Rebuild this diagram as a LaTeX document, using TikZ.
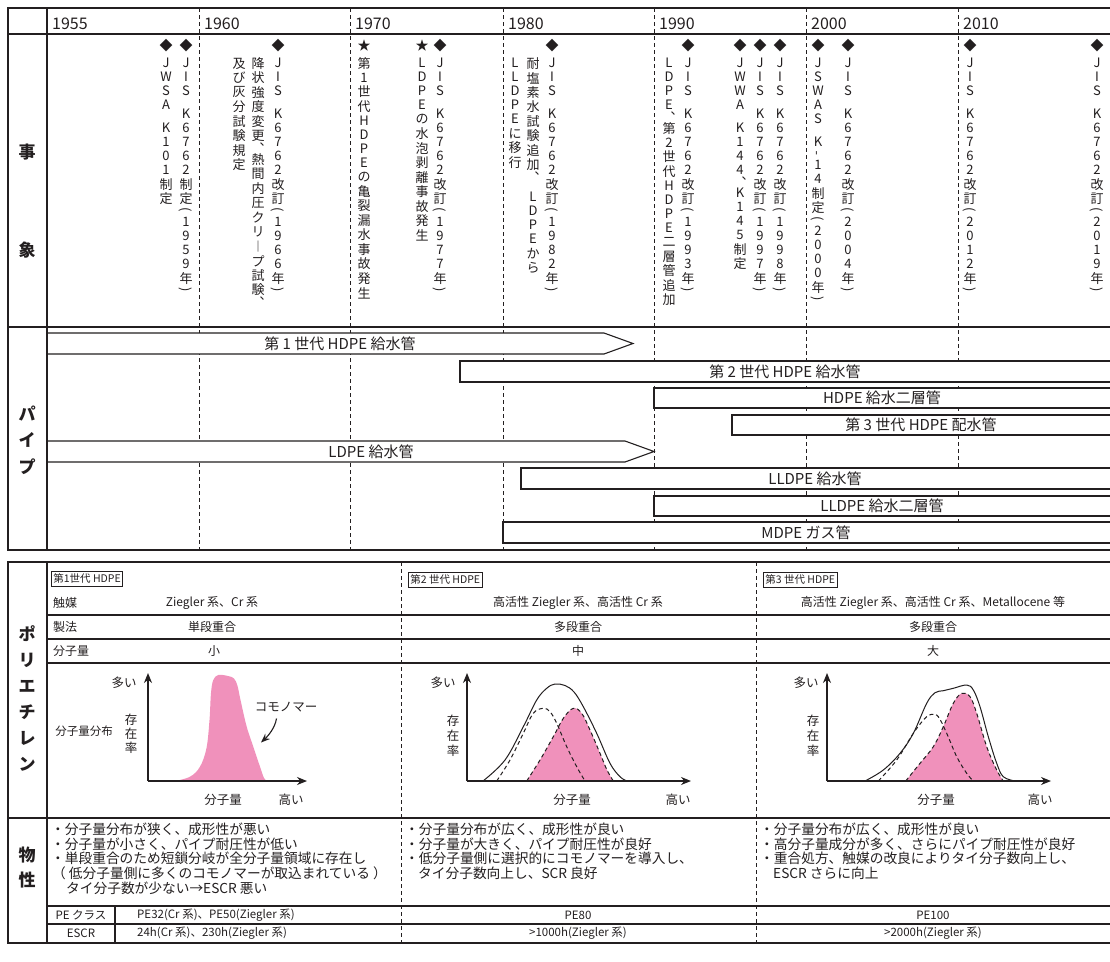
\documentclass[tikz,border=0pt]{standalone}
\usepackage{fontspec}
\usepackage{graphicx}
\setmainfont{Noto Sans CJK JP}
\usetikzlibrary{arrows.meta}
\definecolor{ink}{RGB}{35,31,32}
\definecolor{pinkfill}{RGB}{240,145,187}
\makeatletter
\def\vt@end{\vt@end}
\newcommand\vt@box[2]{\hbox to 14pt{\hss\vbox to #1{\vss\hbox{#2}\vss}\hss}}
\def\vt@loop#1{\ifx\vt@end#1\else\vt@one{#1}\expandafter\vt@loop\fi}
\def\vt@one#1{\ifcat\relax\noexpand#1#1\else\ifnum`#1<256\relax\vt@box{14pt}{#1}\else\vt@box{14.5pt}{#1}\fi\fi}
\newcommand\vtext[1]{\vbox{\offinterlineskip\vt@loop#1\vt@end}}
\newcommand\vsp{\vt@box{9pt}{}}
\newcommand\vlp{\vt@box{9pt}{\rotatebox[origin=c]{-90}{(}}}
\newcommand\vrp{\vt@box{9pt}{\rotatebox[origin=c]{-90}{)}}}
\newcommand\vcm{\vt@box{9pt}{︑}}
\newcommand\vcho{\vt@box{14.5pt}{︱}}
\newcommand\vhy{\vt@box{9pt}{\rotatebox[origin=c]{90}{-}}}
\makeatother
\tikzset{
  frame/.style={line width=2pt, draw=ink},
  rowline/.style={line width=1.2pt, draw=ink},
  gridline/.style={draw=ink, line width=0.9pt, dash pattern=on 4pt off 3pt},
  bar/.style={draw=ink, fill=white, line width=1.1pt},
  barlabel/.style={font=\fontsize{15}{17}\selectfont, text=ink, inner sep=0pt},
  yearlbl/.style={font=\fontsize{16}{18}\selectfont, text=ink, anchor=base west, inner sep=0pt},
  sidelbl/.style={font=\fontsize{17}{19}\selectfont\bfseries, text=ink, inner sep=0pt},
  evmark/.style={font=\fontsize{13}{13}\selectfont, text=ink, inner sep=0pt},
  evtext/.style={anchor=north, inner sep=0pt, text=ink, font=\fontsize{13}{13}\selectfont},
  cell/.style={font=\fontsize{12}{14}\selectfont, text=ink, inner sep=0pt},
  pecell/.style={font=\fontsize{11.5}{13}\selectfont, text=ink, inner sep=0pt},
  bul/.style={font=\fontsize{13.7}{15}\selectfont, text=ink, anchor=west, inner sep=0pt},
  genbox/.style={draw=ink, line width=0.8pt, font=\fontsize{10.5}{12}\selectfont, text=ink, inner xsep=2pt, inner ysep=2.5pt, anchor=north west},
  axisline/.style={draw=ink, line width=1.3pt, -{Stealth[length=10pt,width=8pt]}},
  curve/.style={draw=ink, line width=1pt},
  dcurve/.style={draw=ink, line width=1pt, dash pattern=on 4pt off 3pt},
  axlbl/.style={font=\fontsize{12.5}{15}\selectfont, text=ink, inner sep=0pt, align=center},
}
\begin{document}
\begin{tikzpicture}[x=1pt,y=-1pt]
\useasboundingbox (0,0) rectangle (1110,961);
\fill[white] (0,0) rectangle (1110,961);

% ---------- top section: grid ----------
\foreach \gx/\gn in {199/g60,350/g70,503/g80,654/g90,806/g00,958/g10}{
  \coordinate (\gn t) at (\gx,8);
  \coordinate (\gn b) at (\gx,550);
  \draw[gridline] (\gn t) -- (\gn b);
}
% years
\node[yearlbl] (y55) at (52,29) {1955};
\node[yearlbl] (y60) at (204,29) {1960};
\node[yearlbl] (y70) at (355,29) {1970};
\node[yearlbl] (y80) at (508,29) {1980};
\node[yearlbl] (y90) at (659,29) {1990};
\node[yearlbl] (y00) at (811,29) {2000};
\node[yearlbl] (y10) at (963,29) {2010};

% side labels
\node[sidelbl] (sj1) at (27,152) {事};
\node[sidelbl] (sj2) at (27,250) {象};
\node[sidelbl] (sp1) at (27,414) {パ};
\node[sidelbl] (sp2) at (27,440) {イ};
\node[sidelbl] (sp3) at (27,467) {プ};

% ---------- events ----------
\foreach \mx/\mk/\mn in {166/◆/m1,186/◆/m2,278/◆/m3,364/★/m4,422/★/m5,440/◆/m6,552/◆/m7,688/◆/m8,740/◆/m9,760/◆/m10,780/◆/m11,818/◆/m12,848/◆/m13,970/◆/m14,1097/◆/m15}{
  \node[evmark] (\mn) at (\mx,46) {\mk};
}
\node[evtext] (e1) at (166,56) {\vtext{JWSA\vsp K101制定}};
\node[evtext] (e2) at (186,56) {\vtext{JIS\vsp K6762制定\vlp 1959年\vrp}};
\node[evtext] (e3) at (278,56) {\vtext{JIS\vsp K6762改訂\vlp 1966年\vrp}};
\node[evtext] (e3b) at (258,56) {\vtext{降状強度変更\vcm 熱間内圧クリ\vcho プ試験\vcm}};
\node[evtext] (e3c) at (239,56) {\vtext{及び灰分試験規定}};
\node[evtext] (e4) at (364,56) {\vtext{第1世代HDPEの亀裂漏水事故発生}};
\node[evtext] (e5) at (422,56) {\vtext{LDPEの水泡剥離事故発生}};
\node[evtext] (e6) at (440,56) {\vtext{JIS\vsp K6762改訂\vlp 1977年\vrp}};
\node[evtext] (e7) at (552,56) {\vtext{JIS\vsp K6762改訂\vlp 1982年\vrp}};
\node[evtext] (e7b) at (533,56) {\vtext{耐塩素水試験追加\vcm\vsp LDPEから}};
\node[evtext] (e7c) at (515,56) {\vtext{LLDPEに移行}};
\node[evtext] (e8) at (688,56) {\vtext{JIS\vsp K6762改訂\vlp 1993年\vrp}};
\node[evtext] (e8b) at (669,56) {\vtext{LDPE\vcm 第2世代HDPE二層管追加}};
\node[evtext] (e9) at (740,56) {\vtext{JWWA\vsp K144\vcm K145制定}};
\node[evtext] (e10) at (760,56) {\vtext{JIS\vsp K6762改訂\vlp 1997年\vrp}};
\node[evtext] (e11) at (780,56) {\vtext{JIS\vsp K6762改訂\vlp 1998年\vrp}};
\node[evtext] (e12) at (818,56) {\vtext{JSWAS\vsp K\vhy 14制定\vlp 2000年\vrp}};
\node[evtext] (e13) at (848,56) {\vtext{JIS\vsp K6762改訂\vlp 2004年\vrp}};
\node[evtext] (e14) at (970,56) {\vtext{JIS\vsp K6762改訂\vlp 2012年\vrp}};
\node[evtext] (e15) at (1097,56) {\vtext{JIS\vsp K6762改訂\vlp 2019年\vrp}};

% ---------- pipes ----------
\path[bar] (47,333) -- (604,333) -- (633,343.5) -- (604,354) -- (47,354);
\node[barlabel] (p1) at (340,343.5) {第 1 世代 HDPE 給水管};
\path[bar] (1112,361) -- (460,361) -- (460,382) -- (1112,382);
\node[barlabel] (p2) at (785,371.5) {第 2 世代 HDPE 給水管};
\path[bar] (1112,388) -- (654,388) -- (654,408) -- (1112,408);
\node[barlabel] (p3) at (882,398) {HDPE 給水二層管};
\path[bar] (1112,415) -- (732,415) -- (732,435) -- (1112,435);
\node[barlabel] (p4) at (921,425) {第 3 世代 HDPE 配水管};
\path[bar] (47,441) -- (625,441) -- (654,451.5) -- (625,462) -- (47,462);
\node[barlabel] (p5) at (371,451.5) {LDPE 給水管};
\path[bar] (1112,468) -- (521,468) -- (521,489) -- (1112,489);
\node[barlabel] (p6) at (815,478.5) {LLDPE 給水管};
\path[bar] (1112,496) -- (654,496) -- (654,516) -- (1112,516);
\node[barlabel] (p7) at (882,506) {LLDPE 給水二層管};
\path[bar] (1112,522) -- (503,522) -- (503,543) -- (1112,543);
\node[barlabel] (p8) at (806,532.5) {MDPE ガス管};

% frame of top section
\draw[rowline, line width=1.5pt] (8,34) -- (1112,34);
\draw[frame] (8,327) -- (1112,327);
\draw[rowline, line width=1.5pt] (47,8) -- (47,550);
\draw[frame] (1112,8) -- (8,8) -- (8,550) -- (1112,550);

% ---------- bottom section ----------
\draw[gridline] (401,562) -- (401,943);
\draw[gridline] (756,562) -- (756,943);
\draw[rowline] (47,615) -- (1112,615);
\draw[rowline] (47,639) -- (1112,639);
\draw[rowline] (47,663) -- (1112,663);
\draw[frame, line width=1.6pt] (8,818) -- (1112,818);
\draw[rowline] (47,906) -- (1112,906);
\draw[rowline] (47,924) -- (1112,924);
\draw[rowline] (115,906) -- (115,943);
\draw[rowline, line width=1.5pt] (47,562) -- (47,943);
\draw[frame] (1112,562) -- (8,562) -- (8,943) -- (1112,943);

\foreach \ch/\cy/\cn in {ポ/634/q1,リ/660/q2,エ/686/q3,チ/712/q4,レ/738/q5,ン/764/q6,物/855/q7,性/880/q8}{
  \node[sidelbl] (\cn) at (27,\cy) {\ch};
}

% generation boxes
\node[genbox] (g1) at (51,571) {第1世代 HDPE};
\node[genbox] (g2) at (408,572) {第2 世代 HDPE};
\node[genbox] (g3) at (763,572) {第3 世代 HDPE};

% property rows
\node[cell, anchor=west] (r1) at (53,603) {触媒};
\node[cell, anchor=west] (r2) at (53,627) {製法};
\node[cell, anchor=west] (r3) at (53,651) {分子量};
\node[cell] (c11) at (212,603) {Ziegler 系、Cr 系};
\node[cell] (c12) at (578,603) {高活性 Ziegler 系、高活性 Cr 系};
\node[cell] (c13) at (933,603) {高活性 Ziegler 系、高活性 Cr 系、Metallocene 等};
\node[cell] (c21) at (212,627) {単段重合};
\node[cell] (c22) at (578,627) {多段重合};
\node[cell] (c23) at (933,627) {多段重合};
\node[cell] (c31) at (214,651) {小};
\node[cell] (c32) at (578,651) {中};
\node[cell] (c33) at (933,651) {大};

% ---------- graphs ----------
% gen 1
\fill[pinkfill] plot[smooth, tension=0.6] coordinates {(175,781) (190,776.7) (200,766.7) (206.5,748) (209.5,720) (211,693) (213.3,680) (218.3,675) (228,676) (234,678.5) (237.5,686) (240.5,700) (246.7,726.7) (253.3,746.7) (260,766.7) (264,778) (267,781)} -- cycle;
\coordinate (o1) at (148,781);
\coordinate (ya1) at (148,673);
\coordinate (xa1) at (307,781);
\draw[axisline] (o1) -- (ya1);
\draw[axisline] (o1) -- (xa1);
\node[axlbl] (l1a) at (124,683) {多い};
\node[axlbl, font=\fontsize{12.5}{14}\selectfont] (l1b) at (131,734) {存\\在\\率};
\node[axlbl, font=\fontsize{11.5}{14}\selectfont] (l1c) at (84,731) {分子量分布};
\node[axlbl] (l1d) at (223,800) {分子量};
\node[axlbl] (l1e) at (291,800) {高い};
\node[axlbl] (l1f) at (286,707) {コモノマー};
\coordinate (cm1) at (276.5,718.5);
\coordinate (cm2) at (261,742.5);
\draw[draw=ink, line width=1.1pt, -{Stealth[length=9pt,width=7pt]}] (cm1) .. controls (275,728) and (268,736) .. (cm2);

% gen 2
\fill[pinkfill] plot[smooth, tension=0.6] coordinates {(526.7,781) (540,760) (553.3,736.7) (563.3,718.3) (573.3,708.3) (581.7,713.3) (590,730) (600,753.3) (607,770) (613.3,781)} -- cycle;
\draw[dcurve] plot[smooth, tension=0.6] coordinates {(526.7,781) (540,760) (553.3,736.7) (563.3,718.3) (573.3,708.3) (581.7,713.3) (590,730) (600,753.3) (607,770) (613.3,781)};
\draw[dcurve] plot[smooth, tension=0.6] coordinates {(496.7,781) (510,760) (523.3,733.3) (533.3,713.3) (543.3,708.3) (550,711.7) (556.7,723.3) (566.7,746.7) (576.7,766.7) (585,781)};
\draw[curve] plot[smooth, tension=0.6] coordinates {(483,781) (505,760) (523.3,726.7) (536.7,700) (546.7,688.3) (555,684) (565,685.5) (574,692) (583.3,706.7) (596.7,733.3) (610,763.3) (620,776.7) (627,781)};
\coordinate (o2) at (467,781);
\coordinate (ya2) at (467,673);
\coordinate (xa2) at (691,781);
\draw[axisline] (o2) -- (ya2);
\draw[axisline] (o2) -- (xa2);
\node[axlbl] (l2a) at (443,683) {多い};
\node[axlbl] (l2b) at (453,736) {存\\在\\率};
\node[axlbl] (l2d) at (572,800) {分子量};
\node[axlbl] (l2e) at (678,800) {高い};

% gen 3
\fill[pinkfill] plot[smooth, tension=0.6] coordinates {(905.7,781) (920,763.3) (933.3,746.7) (943.3,726.7) (953.3,703.3) (961.7,693.3) (970,696.7) (976.7,713.3) (986.7,746.7) (996.7,770) (1003.3,781)} -- cycle;
\draw[dcurve] plot[smooth, tension=0.6] coordinates {(905.7,781) (920,763.3) (933.3,746.7) (943.3,726.7) (953.3,703.3) (961.7,693.3) (970,696.7) (976.7,713.3) (986.7,746.7) (996.7,770) (1003.3,781)};
\draw[dcurve] plot[smooth, tension=0.6] coordinates {(878.3,781) (896.7,760) (913.3,733.3) (925,718.3) (931.7,714.3) (938.3,716.7) (946.7,733.3) (956.7,756.7) (966.7,773.3) (973.3,781)};
\draw[curve] plot[smooth, tension=0.6] coordinates {(865,781) (883.3,770) (900,753.3) (913.3,733.3) (926.7,703.3) (935,692.7) (943.3,690.7) (953.3,688.3) (966.7,685) (973.3,690) (980,706.7) (988.3,736.7) (996.7,763.3) (1003.3,776.7) (1015,781)};
\coordinate (o3) at (827,781);
\coordinate (ya3) at (827,673);
\coordinate (xa3) at (1051,781);
\draw[axisline] (o3) -- (ya3);
\draw[axisline] (o3) -- (xa3);
\node[axlbl] (l3a) at (806,683) {多い};
\node[axlbl] (l3b) at (813,736) {存\\在\\率};
\node[axlbl] (l3d) at (936,800) {分子量};
\node[axlbl] (l3e) at (1040,800) {高い};

% ---------- properties text ----------
\node[bul] (b11) at (51,829) {・分子量分布が狭く、成形性が悪い};
\node[bul] (b12) at (51,844) {・分子量が小さく、パイプ耐圧性が低い};
\node[bul] (b13) at (51,858) {・単段重合のため短鎖分岐が全分子量領域に存在し};
\node[bul] (b14) at (52,873) {（ 低分子量側に多くのコモノマーが取込まれている ）};
\node[bul] (b15) at (66,888) {タイ分子数が少ない→ESCR 悪い};
\node[bul] (b21) at (405,829) {・分子量分布が広く、成形性が良い};
\node[bul] (b22) at (405,844) {・分子量が大きく、パイプ耐圧性が良好};
\node[bul] (b23) at (405,858) {・低分子量側に選択的にコモノマーを導入し、};
\node[bul] (b24) at (418,873) {タイ分子数向上し、SCR 良好};
\node[bul] (b31) at (760,829) {・分子量分布が広く、成形性が良い};
\node[bul] (b32) at (760,844) {・高分子量成分が多く、さらにパイプ耐圧性が良好};
\node[bul] (b33) at (760,858) {・重合処方、触媒の改良によりタイ分子数向上し、};
\node[bul] (b34) at (773,873) {ESCR さらに向上};

\node[pecell] (pe0) at (81,915) {PE クラス};
\node[pecell] (es0) at (81,933.5) {ESCR};
\node[pecell, anchor=west] (pe1) at (137,915) {PE32(Cr 系)、PE50(Ziegler 系)};
\node[pecell, anchor=west] (es1) at (137,933.5) {24h(Cr 系)、230h(Ziegler 系)};
\node[pecell] (pe2) at (578,915) {PE80};
\node[pecell] (es2) at (578,933.5) {>1000h(Ziegler 系)};
\node[pecell] (pe3) at (933,915) {PE100};
\node[pecell] (es3) at (933,933.5) {>2000h(Ziegler 系)};
\end{tikzpicture}
\end{document}
